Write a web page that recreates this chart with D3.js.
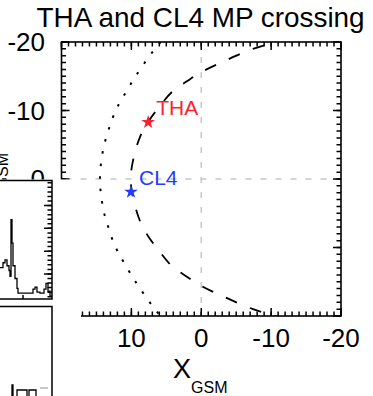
<!DOCTYPE html>
<html>
<head>
<meta charset="utf-8">
<script src="https://cdn.jsdelivr.net/npm/d3@7"></script>
<style>
body { margin: 0; background: #fff; }
svg { display: block; font-family: "Liberation Sans", Arial, Helvetica, sans-serif; }
</style>
</head>
<body>
<svg id="chart" width="373" height="396"></svg>
<script>
// magnetopause model (dashed), GSM Re
const mpX = [-12, -10.6, -7.4, -3.7, 0, 2, 4.2, 6.1, 7.5, 8.7, 9.7, 10.1, 9.7, 8.7, 7.5, 6.1, 4.2, 2, 0, -3.7, -7.4, -10.6, -12];
const mpY = [-20.5, -20, -19, -17.4, -15.6, -14.3, -12.7, -10.4, -8.5, -6.3, -3, 0, 3, 6.3, 8.5, 10.4, 12.7, 14.3, 15.6, 17.4, 19, 20, 20.5];

// bow shock model (dotted)
const bsX = [5.8, 6.4, 7.3, 9.4, 11.0, 12.05, 12.8, 13.4, 14.0, 14.5, 14.0, 13.4, 12.8, 12.05, 11.0, 9.4, 7.3, 6.4, 5.8];
const bsY = [-20, -19.3, -18.1, -15, -12.3, -10.4, -8.6, -6.7, -4.5, 0, 4.5, 6.7, 8.6, 10.4, 12.3, 15, 18.1, 19.3, 20];

// spacecraft positions
const satNames = ["THA", "CL4"];
const satX = [7.6, 10.05];
const satY = [-8.3, 1.9];
const satColors = ["#ff1f2d", "#1f3cff"];

const xTicks = [10, 0, -10, -20];
const yTicks = [-20, -10, 0, 10, 20];

// neighbouring panels (cut off at the left edge)
const histEdges = [0, 1.5, 2.5, 3.5, 4.5, 5, 5.5, 6, 6.5, 7.5, 8.5, 9, 16.5, 17.5, 18.5, 20, 22, 23, 24, 25, 26];
const histCounts = [1.28, 1.49, 1.62, 1.36, 1.15, 0.89, 3.38, 2.35, 1.36, 0.80, 0.37, 0.16, 0.33, 0.42, 0.20, 0.16, 0.33, 0.59, 0.24, 0.03];
const histXTicks = [11.5];
const histYTicks = [1, 2, 3, 4];
const lowEdges = [0, 6, 6.5, 8.5, 13.5, 14.5, 18, 20];
const lowCounts = [0, 0.75, 0, 0.5, 0, 0.5, 0];
const lowGreyEdges = [20, 24];
const lowGreyCounts = [0.6];

const svg = d3.select("#chart");

const plot = {left: 61.5, right: 341, top: 42, bottom: 316};

const x = d3.scaleLinear().domain([20, -20]).range([plot.left, plot.right]);
const y = d3.scaleLinear().domain([-20, 20]).range([plot.top, plot.bottom]);

svg.append("text")
    .attr("x", 36.5).attr("y", 27)
    .attr("font-size", 27.9)
    .text("THA and CL4 MP crossing");

svg.append("defs").append("clipPath").attr("id", "clip")
    .append("rect")
    .attr("x", plot.left).attr("y", plot.top)
    .attr("width", plot.right - plot.left).attr("height", plot.bottom - plot.top);

let g = svg.append("g");

// zero lines
g.append("line")
    .attr("x1", x(0)).attr("x2", x(0))
    .attr("y1", plot.top).attr("y2", plot.bottom)
    .attr("stroke", "#c8c8c8").attr("stroke-width", 1.5)
    .attr("stroke-dasharray", "6,9");
g.append("line")
    .attr("x1", plot.left).attr("x2", plot.right)
    .attr("y1", y(0)).attr("y2", y(0))
    .attr("stroke", "#c8c8c8").attr("stroke-width", 1.5)
    .attr("stroke-dasharray", "6,9").attr("stroke-dashoffset", -4);

let line = d3.line()
    .x(d => x(d[0]))
    .y(d => y(d[1]))
    .curve(d3.curveCatmullRom);

g.append("path")
    .datum(mpX.map((v, i) => [v, mpY[i]]))
    .attr("clip-path", "url(#clip)")
    .attr("d", line)
    .attr("fill", "none").attr("stroke", "#000").attr("stroke-width", 1.8)
    .attr("stroke-dasharray", "12,14").attr("stroke-dashoffset", 4);

g.append("path")
    .datum(bsX.map((v, i) => [v, bsY[i]]))
    .attr("clip-path", "url(#clip)")
    .attr("d", line)
    .attr("fill", "none").attr("stroke", "#000").attr("stroke-width", 2)
    .attr("stroke-dasharray", "2.5,10");

// spacecraft
let sats = g.selectAll("g.sat")
    .data(satNames.map((n, i) => ({name: n, x: satX[i], y: satY[i], color: satColors[i]})))
    .enter().append("g")
    .attr("class", "sat")
    .attr("transform", d => `translate(${x(d.x)},${y(d.y)})`);

sats.append("path")
    .attr("d", d3.symbol().type(d3.symbolStar).size(58))
    .attr("fill", d => d.color);

sats.append("text")
    .attr("x", 8).attr("y", -7)
    .attr("font-size", 21)
    .attr("fill", d => d.color)
    .text(d => d.name);

// tick marks, pointing inward on all four sides, one path per set
const minorTicks = d3.range(-20, 21, 1);

function ticksH(parent, scale, values, yPos, len) {
    let d = values.map(v => `M${scale(v).toFixed(2)},${yPos}v${len}`).join("");
    parent.append("path")
        .attr("d", d)
        .attr("fill", "none")
        .attr("stroke", "#000").attr("stroke-width", 1.5);
}

function ticksV(parent, scale, values, xPos, len) {
    let d = values.map(v => `M${xPos},${scale(v).toFixed(2)}h${len}`).join("");
    parent.append("path")
        .attr("d", d)
        .attr("fill", "none")
        .attr("stroke", "#000").attr("stroke-width", 1.5);
}

ticksH(g, x, minorTicks, plot.bottom, -4.5);
ticksH(g, x, xTicks.concat([20]), plot.bottom, -8);
ticksH(g, x, minorTicks, plot.top, 4.5);
ticksH(g, x, xTicks.concat([20]), plot.top, 8);
ticksV(g, y, minorTicks, plot.left, 4.5);
ticksV(g, y, yTicks, plot.left, 8);
ticksV(g, y, minorTicks, plot.right, -4.5);
ticksV(g, y, yTicks, plot.right, -8);

g.append("g").selectAll("text")
    .data(xTicks)
    .enter().append("text")
    .attr("x", d => x(d))
    .attr("y", 347)
    .attr("text-anchor", "middle")
    .attr("font-size", 26)
    .text(d => d);

g.append("g").selectAll("text")
    .data(yTicks)
    .enter().append("text")
    .attr("x", plot.left - 16.5)
    .attr("y", d => y(d) + 9)
    .attr("text-anchor", "end")
    .attr("font-size", 26)
    .text(d => d);

g.append("rect")
    .attr("x", plot.left).attr("y", plot.top)
    .attr("width", plot.right - plot.left).attr("height", plot.bottom - plot.top)
    .attr("fill", "none").attr("stroke", "#000").attr("stroke-width", 1.6);

// axis titles
let xt = svg.append("text")
    .attr("x", 173).attr("y", 378)
    .attr("font-size", 27);
xt.append("tspan").text("X");
xt.append("tspan").attr("font-size", 16).attr("dy", 15).text("GSM");

let yt = svg.append("text")
    .attr("transform", "translate(-7,153) rotate(-90)")
    .attr("text-anchor", "end")
    .attr("font-size", 27);
yt.append("tspan").text("Y");
yt.append("tspan").attr("font-size", 16).attr("dy", 15).text("GSM");

// panels from the rest of the figure
svg.append("rect")
    .attr("x", 0).attr("y", 179.5)
    .attr("width", 81).attr("height", 220)
    .attr("fill", "#fff");

let hx = d3.scaleLinear().domain([0, 26]).range([0, 52]);
let hy = d3.scaleLinear().domain([-0.1, 5.1]).range([299, 180.5]);

let step = d3.line()
    .x(d => hx(d[0]))
    .curve(d3.curveStepAfter);

let histPts = histCounts.map((c, i) => [histEdges[i], c]);
histPts.push([histEdges[histEdges.length - 1], histCounts[histCounts.length - 1]]);

svg.append("path")
    .datum(histPts)
    .attr("d", step.y(d => hy(d[1])))
    .attr("fill", "none").attr("stroke", "#000").attr("stroke-width", 1.3);

ticksV(svg, hy, d3.range(0, 5.01, 0.2), hx(26), -4.5);
ticksV(svg, hy, histYTicks, hx(26), -8);
ticksH(svg, hx, histXTicks, hy(-0.1), -4);

svg.append("path")
    .attr("d", `M-2,${hy(5.1)}H${hx(26)}V${hy(-0.1)}H-2`)
    .attr("fill", "none").attr("stroke", "#000").attr("stroke-width", 1.5);

// lower panel
let ly = d3.scaleLinear().domain([0, 1]).range([400, 380]);
let lowPts = lowCounts.map((c, i) => [lowEdges[i], c]);
lowPts.push([lowEdges[lowEdges.length - 1], 0]);
svg.append("path")
    .datum(lowPts)
    .attr("d", step.y(d => ly(d[1])))
    .attr("fill", "none").attr("stroke", "#000").attr("stroke-width", 1.3);
svg.append("path")
    .datum([[lowGreyEdges[0], lowGreyCounts[0]], [lowGreyEdges[1], lowGreyCounts[0]]])
    .attr("d", step.y(d => ly(d[1])))
    .attr("fill", "none").attr("stroke", "#aaa").attr("stroke-width", 1.3);

svg.append("path")
    .attr("d", `M-2,306.5H${hx(26)}V400`)
    .attr("fill", "none").attr("stroke", "#000").attr("stroke-width", 1.5);
</script>
</body>
</html>
